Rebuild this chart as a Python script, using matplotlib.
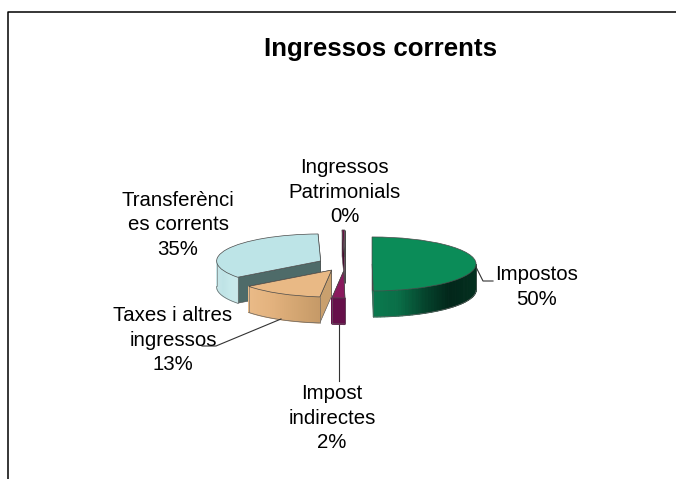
import numpy as np
import matplotlib
matplotlib.use('Agg')
import matplotlib.pyplot as plt
from matplotlib.colors import LinearSegmentedColormap
from matplotlib.lines import Line2D

plt.rcParams['font.family'] = ['Liberation Sans', 'DejaVu Sans']

W, H = 676, 479

# Dades llegides del grafic
title = 'Ingressos corrents'
names = ['Impostos', 'Impost\nindirectes', 'Taxes i altres\ningressos',
         'Transferènci\nes corrents', 'Ingressos\nPatrimonials']
shown_pct = ['50%', '2%', '13%', '35%', '0%']
sizes = [49.8, 2.0, 12.9, 34.9, 0.4]
explode = [0.26, 0.26, 0.26, 0.26, 0.26]

top_colors = ['#0b8c58', '#8a1a5e', '#e9b985', '#bde4e7', '#6a1044']
radial_colors = ['#0a7a4e', '#66104a', '#c9a06e', '#4e6b69', '#4a0c30']
# colors of the outer wall, from left to right in each slice
wall_stops = [
    ['#0a7a4e', '#0a6e47', '#05452d', '#02261a', '#03301f'],
    ['#66104a', '#66104a'],
    ['#eabb88', '#e3b27e', '#d4a672', '#c69a68'],
    ['#c9e8ea', '#bfe3e6', '#c6e8ea', '#c9e8ea'],
    ['#4a0c30', '#4a0c30'],
]
draw_order = [4, 3, 2, 1, 0]

label_pos = [(537, 287), (332, 418), (173, 340), (178, 225), (344.5, 192)]
leaders = [
    [(476, 267), (483, 281), (493, 281)],
    [(339, 325), (339, 381)],
    [(281, 319), (216, 346), (202, 346)],
]

# pie geometry, in pixels of the picture
cx, cy = 345, 264
rx, ry = 104, 27
depth = 26 / ry

fig = plt.figure(figsize=(W / 100, H / 100), dpi=100)
ax = fig.add_axes([0, 0, 1, 1])
wedges, _ = ax.pie(sizes, explode=explode, colors=top_colors, startangle=90,
                   counterclock=False, radius=1,
                   wedgeprops={'edgecolor': '#4a4a4a', 'linewidth': 0.5})

# the pie is squashed to an ellipse by the axis scales
ax.set_aspect('auto')
ax.set_xlim(-cx / rx, (W - cx) / rx)
ax.set_ylim((cy - H) / ry, cy / ry)
ax.set_frame_on(False)
ax.set_xticks([])
ax.set_yticks([])

for rank, i in enumerate(draw_order):
    w = wedges[i]
    x0, y0 = w.center
    base = 10 + rank * 5
    w.set_zorder(base + 3)
    for t in (w.theta1, w.theta2):
        xe = x0 + np.cos(np.radians(t))
        ye = y0 + np.sin(np.radians(t))
        ax.fill([x0, xe, xe, x0], [y0, ye, ye - depth, y0 - depth],
                color=radial_colors[i], ec='#4a4a4a', lw=0.4, zorder=base)
    # outer wall, only where it faces the viewer
    angles = np.radians(np.linspace(w.theta1, w.theta2, 90))
    angles = angles[np.sin(angles) <= 0.02]
    cmap = LinearSegmentedColormap.from_list('wall', wall_stops[i])
    if len(angles) > 1:
        xs = x0 + np.cos(angles)
        ys = y0 + np.sin(angles)
        xmin, xmax = xs.min(), xs.max()
        for k in range(len(angles) - 1):
            frac = (0.5 * (xs[k] + xs[k + 1]) - xmin) / max(xmax - xmin, 1e-6)
            col = cmap(frac)
            ax.fill([xs[k], xs[k + 1], xs[k + 1], xs[k]],
                    [ys[k], ys[k + 1], ys[k + 1] - depth, ys[k] - depth],
                    fc=col, ec=col, lw=0.8, zorder=base + 1)
        ax.plot(xs, ys - depth, color='#666666', lw=0.5, zorder=base + 2)
        ax.plot([xs[0], xs[0]], [ys[0], ys[0] - depth], color='#666666', lw=0.4, zorder=base + 2)
        ax.plot([xs[-1], xs[-1]], [ys[-1], ys[-1] - depth], color='#666666', lw=0.4, zorder=base + 2)


def fx(x):
    return x / W


def fy(y):
    return 1 - y / H


# frame of the chart area, cut by the picture at right and bottom
fig.add_artist(Line2D([fx(7.5), fx(7.5), 1], [0, fy(11.5), fy(11.5)],
                      color='black', lw=1.1))

for pts in leaders:
    fig.add_artist(Line2D([fx(p[0]) for p in pts], [fy(p[1]) for p in pts],
                          color='#333333', lw=0.8, zorder=60))

fig.text(fx(380.5), fy(49), title, fontsize=18.6, fontweight='bold',
         ha='center', va='center', color='black')

for name, pct, (lx, ly) in zip(names, shown_pct, label_pos):
    fig.text(fx(lx), fy(ly), name + '\n' + pct, fontsize=14.7, ha='center',
             va='center', color='black', linespacing=1.35, zorder=70)

fig.savefig('out.png', dpi=100, facecolor='white')
